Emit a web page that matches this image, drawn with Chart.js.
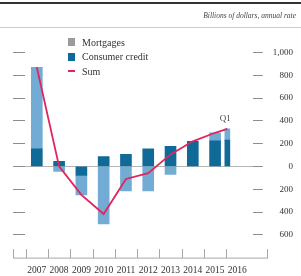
<!DOCTYPE html>
<html>
<head>
<meta charset="utf-8">
<script src="https://cdn.jsdelivr.net/npm/chart.js@4.4.0/dist/chart.umd.min.js"></script>
<style>
  html, body { margin: 0; padding: 0; background: #fff; }
  #wrap { position: relative; width: 301px; height: 276px; overflow: hidden; font-family: "Liberation Serif", serif; }
  #chart { position: absolute; left: 0; top: 0; }
  .topRule { position: absolute; left: 0; top: 2px; width: 301px; height: 2px; background: #333; }
  .units { position: absolute; right: 5px; top: 11px; font-size: 7.5px; font-style: italic; color: #444; }
  .subRule { position: absolute; left: 0; top: 27px; width: 301px; height: 1px; background: #ccc; }
  #legend { position: absolute; left: 68px; top: 35px; font-size: 10px; color: #333; }
  .legendItem { display: flex; align-items: center; height: 14.5px; }
</style>
</head>
<body>
<div id="wrap">
  <canvas id="chart" width="301" height="276"></canvas>
  <div class="topRule"></div>
  <div class="units">Billions of dollars, annual rate</div>
  <div class="subRule"></div>
  <div id="legend"></div>
</div>
<script>
// dados
const years = [2007, 2008, 2009, 2010, 2011, 2012, 2013, 2014, 2015];
const mortgages = [715, -45, -170, -505, -215, -215, -70, 0, 70];
const consumerCredit = [155, 45, -80, 87, 105, 155, 175, 220, 225];
const q1Year = 2015.55; // 2016 Q1 bar sits in the left part of 2016
const mortgagesQ1 = [100];
const consumerCreditQ1 = [230];
const sumYears = [2007, 2008, 2009, 2010, 2011, 2012, 2013, 2014, 2015, 2015.55];
const sumValues = [870, 0, -250, -418, -110, -60, 105, 220, 295, 330];
const yearLabels = [2007, 2008, 2009, 2010, 2011, 2012, 2013, 2014, 2015, 2016];
const yTicks = [-600, -400, -200, 0, 200, 400, 600, 800, 1000];

const colMortgage = '#72acd4';
const colConsumer = '#0f6a98';
const colSum = '#e2245f';
const colTick = '#8c8c8c';

function points(xs, ys) {
  return xs.map((x, i) => ({ x: x, y: ys[i] }));
}

function renderCustomLegend() {
  const items = [
    { label: 'Mortgages', type: 'box', color: '#9b9b9b' },
    { label: 'Consumer credit', type: 'box', color: colConsumer },
    { label: 'Sum', type: 'line', color: colSum }
  ];
  const legend = document.getElementById('legend');
  items.forEach((it) => {
    const row = document.createElement('div');
    row.className = 'legendItem';
    const mark = document.createElement('span');
    mark.style.display = 'inline-block';
    mark.style.width = '7px';
    mark.style.marginRight = '7px';
    if (it.type === 'box') {
      mark.style.height = '8px';
      mark.style.background = it.color;
    } else {
      mark.style.height = '2px';
      mark.style.background = it.color;
    }
    const txt = document.createElement('span');
    txt.innerText = it.label;
    row.appendChild(mark);
    row.appendChild(txt);
    legend.appendChild(row);
  });
}

// eixo de baixo: linha e marquinhas entre os anos
const bottomAxis = {
  id: 'bottomAxis',
  afterDraw(chart) {
    const ctx = chart.ctx;
    const x = chart.scales.x;
    const yb = chart.chartArea.bottom + 0.5;
    ctx.save();
    ctx.strokeStyle = '#a8a8a8';
    ctx.lineWidth = 1;
    ctx.beginPath();
    ctx.moveTo(13, yb);
    ctx.lineTo(268, yb);
    yearLabels.forEach((yr) => {
      const px = Math.round(x.getPixelForValue(yr - 0.5)) + 0.5;
      ctx.moveTo(px, yb);
      ctx.lineTo(px, yb - 9);
    });
    ctx.moveTo(13.5, yb);
    ctx.lineTo(13.5, yb - 9);
    ctx.moveTo(267.5, yb);
    ctx.lineTo(267.5, yb - 9);
    ctx.stroke();

    // rótulo Q1 no fim da linha
    const meta = chart.getDatasetMeta(4);
    const last = meta.data[meta.data.length - 1];
    ctx.fillStyle = '#444';
    ctx.font = '9px "Liberation Serif"';
    ctx.textAlign = 'center';
    ctx.textBaseline = 'bottom';
    ctx.fillText('Q1', last.x - 2, last.y - 6);
    ctx.restore();
  }
};

const ctx = document.getElementById('chart').getContext('2d');
new Chart(ctx, {
  type: 'bar',
  data: {
    datasets: [
      { label: 'Consumer credit', data: points(years, consumerCredit), backgroundColor: colConsumer, stack: 'b', order: 2, barThickness: 11 },
      { label: 'Mortgages', data: points(years, mortgages), backgroundColor: colMortgage, stack: 'b', order: 3, barThickness: 11 },
      { label: 'Consumer credit Q1', data: points([q1Year], consumerCreditQ1), backgroundColor: colConsumer, stack: 'b', order: 4, barThickness: 5 },
      { label: 'Mortgages Q1', data: points([q1Year], mortgagesQ1), backgroundColor: colMortgage, stack: 'b', order: 5, barThickness: 5 },
      {
        type: 'line', label: 'Sum', data: points(sumYears, sumValues), stack: 'sum', order: 0,
        borderColor: colSum, borderWidth: 1.8, pointRadius: 0, tension: 0, fill: false
      }
    ]
  },
  options: {
    responsive: false,
    animation: false,
    layout: { padding: { top: 41, left: 13, right: 8, bottom: -7 } },
    plugins: { legend: { display: false }, tooltip: { enabled: false } },
    scales: {
      x: {
        type: 'linear', min: 2006.47, max: 2016.69, offset: false,
        afterBuildTicks: (s) => { s.ticks = yearLabels.map((v) => ({ value: v })); },
        grid: { display: false, drawTicks: false },
        border: { display: false },
        ticks: { padding: 7, color: '#333', font: { family: 'Liberation Serif', size: 9.5 }, maxRotation: 0, autoSkip: false, callback: (v) => String(v) }
      },
      y: {
        position: 'right', stacked: true, min: -800, max: 1100,
        afterBuildTicks: (s) => { s.ticks = yTicks.map((v) => ({ value: v })); },
        grid: {
          drawOnChartArea: true, tickLength: 10,
          color: (c) => (c.tick && c.tick.value === 0 ? '#b5b5b5' : 'rgba(0,0,0,0)'),
          tickColor: colTick
        },
        border: { display: false },
        ticks: {
          padding: 5, crossAlign: 'far', color: '#333',
          font: { family: 'Liberation Serif', size: 9 },
          callback: (v) => Math.abs(v).toLocaleString('en-US')
        }
      },
      yLeft: {
        position: 'left', min: -800, max: 1100,
        afterBuildTicks: (s) => { s.ticks = yTicks.map((v) => ({ value: v })); },
        grid: { drawOnChartArea: false, tickLength: 12, tickColor: colTick },
        border: { display: false },
        ticks: { display: false }
      }
    }
  },
  plugins: [bottomAxis]
});

renderCustomLegend();
</script>
</body>
</html>
